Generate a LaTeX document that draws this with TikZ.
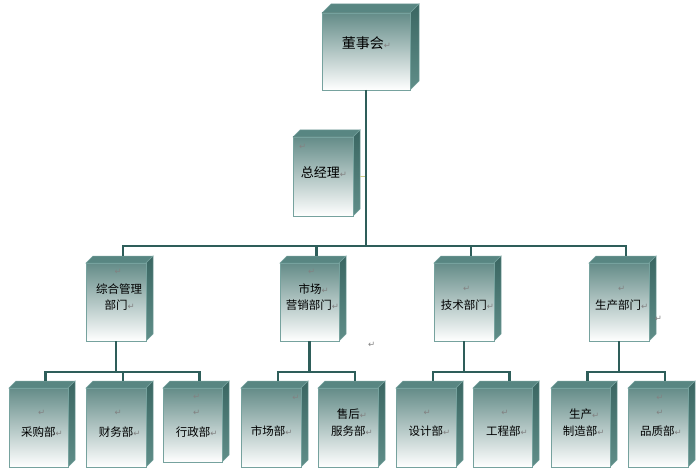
\documentclass[tikz,border=0pt]{standalone}
\usepackage{fontspec}
\newfontfamily\cjk{Noto Sans CJK SC}
\newfontfamily\dv{DejaVu Sans}
\definecolor{frontc}{RGB}{100,140,136}
\definecolor{edgec}{RGB}{118,162,158}
\definecolor{topc}{RGB}{88,134,130}
\definecolor{sidec}{RGB}{58,102,98}
\definecolor{sidec2}{RGB}{96,142,137}
\definecolor{linec}{RGB}{46,94,90}
\definecolor{tickc}{RGB}{204,204,140}
\definecolor{markc}{RGB}{130,130,130}
\newcommand{\pmk}{{\dv\fontsize{8.5}{8.5}\selectfont\color{markc}↵}}
\newcommand{\dbox}[6]{%
  \fill[topc,draw=edgec,line width=0.5pt] (#2,#3) -- ({#2+#6},{#3-#6}) -- ({#4+#6},{#3-#6}) -- (#4,#3) -- cycle;
  \shade[top color=sidec,bottom color=sidec2,draw=edgec,line width=0.5pt] (#4,#3) -- ({#4+#6},{#3-#6}) -- ({#4+#6},{#5-#6}) -- (#4,#5) -- cycle;
  \node[front,minimum width={(#4-#2)*1pt},minimum height={(#5-#3)*1pt}] (#1) at ({(#2+#4)/2},{(#3+#5)/2}) {};
}
\tikzset{
 front/.style={draw=edgec, line width=0.8pt, top color=frontc, bottom color=white, inner sep=0pt, outer sep=0pt},
 conn/.style={draw=linec, line width=2.6pt},
 lbl/.style={font=\cjk\fontsize{11.5}{16}\selectfont, inner sep=0pt, anchor=west},
 mk/.style={inner sep=0pt},
}
\begin{document}
\begin{tikzpicture}[x=1pt,y=-1pt]
\fill[white] (0,0) rectangle (700,470);
\useasboundingbox (0,0) rectangle (700,470);
% boxes
\dbox{dsh}{322}{13}{410}{90}{9}
\dbox{zjl}{293}{137}{353}{216}{7}
\dbox{zh}{86}{263}{146}{341}{7}
\dbox{sc}{280}{263}{339}{341}{7}
\dbox{js}{434}{263}{494}{341}{7}
\dbox{sx}{589}{263}{649}{341}{7}
\dbox{cg}{9}{388}{68}{467}{7}
\dbox{cw}{86}{388}{146}{467}{7}
\dbox{xz}{163}{388}{222}{462}{7}
\dbox{scb}{241}{388}{301}{467}{7}
\dbox{sh}{318}{388}{378}{467}{7}
\dbox{sj}{396}{388}{456}{467}{7}
\dbox{gc}{473}{388}{532}{467}{7}
\dbox{zz}{551}{388}{610}{467}{7}
\dbox{pz}{628}{388}{688}{467}{7}
% trunk and bus
\coordinate (bus) at (dsh.south |- 0,246);
\draw[conn] (dsh.south) -- (bus);
\foreach \n in {zh,sc,js,sx}{
  \draw[conn] (bus) -| ([shift={(7pt,7pt)}]\n.north);
}
\draw[tickc,line width=1.5pt] (360,176.5) -- (364.5,176.5);
% sub buses
\foreach \p/\c in {zh/cg,zh/cw,zh/xz,sc/scb,sc/sh,js/sj,js/gc,sx/zz,sx/pz}{
  \draw[conn] (\p.south) -- (\p.south |- 0,372) -| ([shift={(7pt,7pt)}]\c.north);
}
% labels
\node[lbl,font=\cjk\fontsize{14}{16}\selectfont] (t-dsh) at (341.7,43.3) {董事会\pmk};
\node[mk] (m-zjl) at (302.7,146.7) {\pmk};
\node[lbl,font=\cjk\fontsize{13}{16}\selectfont] (t-zjl) at (300.7,172.3) {总经理\pmk};
\node[mk] (m-zh) at (118.3,272.3) {\pmk};
\node[lbl] (t-zh1) at (96,289.3) {综合管理};
\node[lbl] (t-zh2) at (104.3,305) {部门\pmk};
\node[mk] (m-sc) at (311.7,272.3) {\pmk};
\node[lbl] (t-sc1) at (298.3,289) {市场\pmk};
\node[lbl] (t-sc2) at (285.7,305) {营销部门\pmk};
\node[mk] (m-js) at (466.7,289) {\pmk};
\node[lbl] (t-js) at (440.7,305) {技术部门\pmk};
\node[mk] (m-sx) at (621.7,289) {\pmk};
\node[lbl] (t-sx) at (595,305) {生产部门\pmk};
\node[mk] (m-sx2) at (658.3,319) {\pmk};
\node[mk] (m-free) at (371.7,345) {\pmk};
\node[mk] (m-cg) at (41.7,413.3) {\pmk};
\node[lbl] (t-cg) at (21,432.3) {采购部\pmk};
\node[mk] (m-cw) at (118.3,413.3) {\pmk};
\node[lbl] (t-cw) at (98.7,432.3) {财务部\pmk};
\node[mk] (m-xz1) at (196.7,397.3) {\pmk};
\node[mk] (m-xz2) at (196.7,413.3) {\pmk};
\node[lbl] (t-xz) at (175.7,432.3) {行政部\pmk};
\node[mk] (m-scb) at (296,398.3) {\pmk};
\node[lbl] (t-scb) at (250.7,430.7) {市场部\pmk};
\node[lbl] (t-sh1) at (336.7,414) {售后\pmk};
\node[lbl] (t-sh2) at (331,430.7) {服务部\pmk};
\node[mk] (m-sj) at (427.3,413.3) {\pmk};
\node[lbl] (t-sj) at (408.3,430.7) {设计部\pmk};
\node[mk] (m-gc) at (505,413.3) {\pmk};
\node[lbl] (t-gc) at (486,430.7) {工程部\pmk};
\node[lbl] (t-zz1) at (569,414) {生产\pmk};
\node[lbl] (t-zz2) at (562.7,430.7) {制造部\pmk};
\node[mk] (m-pz1) at (660,398.3) {\pmk};
\node[mk] (m-pz2) at (660,413.3) {\pmk};
\node[lbl] (t-pz) at (640,430.7) {品质部\pmk};
\end{tikzpicture}
\end{document}
